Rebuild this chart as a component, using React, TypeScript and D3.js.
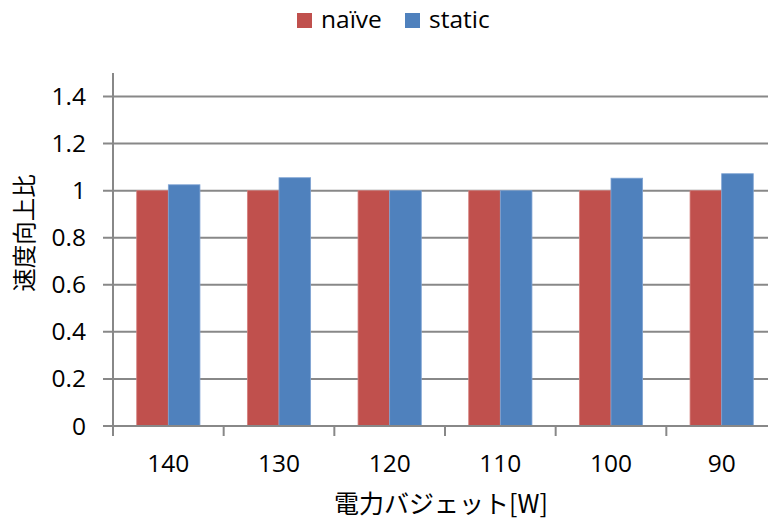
import React from "react";
import * as d3 from "d3";

const categories = ["140", "130", "120", "110", "100", "90"];
const seriesNames = ["naïve", "static"];
const naiveValues = [1, 1, 1, 1, 1, 1];
const staticValues = [1.025, 1.055, 1.0, 1.0, 1.053, 1.072];
const yTicks = [0, 0.2, 0.4, 0.6, 0.8, 1, 1.2, 1.4];
const colors = ["#C0504D", "#4F81BD"];

const W = 768;
const H = 525;
const left = 113;
const right = 777;
const top = 73;
const bottom = 426;
const font = "'Open Sans', 'Noto Sans CJK JP', sans-serif";
const jfont = "'Noto Sans CJK JP', 'Open Sans', sans-serif";

export default function App() {
  const x = d3.scaleBand<string>().domain(categories).range([left, right]).paddingInner(0).paddingOuter(0);
  const y = d3.scaleLinear().domain([0, 1.5]).range([bottom, top]);
  const bw = x.bandwidth() / 3.5;
  const series = [naiveValues, staticValues];
  const grid = "#888888";

  return (
    <svg width={W} height={H} style={{ position: "absolute", left: 0, top: 0, background: "#fff" }}>
      {yTicks.map((t) => (
        <line key={"g" + t} x1={left - 10} x2={right} y1={y(t)} y2={y(t)} stroke={grid} strokeWidth={2} />
      ))}
      {categories.map((c, i) =>
        series.map((s, k) => {
          const cx = (x(c) as number) + x.bandwidth() / 2;
          const bx = cx - bw + k * bw;
          return (
            <rect
              key={c + k}
              x={bx}
              y={y(s[i])}
              width={bw}
              height={y(0) - y(s[i])}
              fill={colors[k]}
              stroke={k === 0 ? "#D4807E" : "#7FA3D3"}
              strokeWidth={0.8}
            />
          );
        })
      )}
      <line x1={left} x2={left} y1={top} y2={bottom} stroke={grid} strokeWidth={2} />
      <line x1={left} x2={right} y1={bottom} y2={bottom} stroke={grid} strokeWidth={2} />
      {categories.map((c, i) => (
        <line key={"xt" + i} x1={x(c) as number} x2={x(c) as number} y1={bottom} y2={bottom + 10} stroke={grid} strokeWidth={2} />
      ))}
      <line x1={right} x2={right} y1={bottom} y2={bottom + 10} stroke={grid} strokeWidth={2} />
      {yTicks.map((t) => (
        <text key={"yl" + t} x={86} y={y(t) + 8.5} textAnchor="end" fontFamily={font} fontSize={24.5} fill="#000">
          {String(t)}
        </text>
      ))}
      {categories.map((c) => (
        <text key={"xl" + c} x={(x(c) as number) + x.bandwidth() / 2} y={472} textAnchor="middle" fontFamily={font} fontSize={24.5} fill="#000">
          {c}
        </text>
      ))}
      <text
        transform={`translate(33,233) rotate(-90)`}
        textAnchor="middle"
        fontFamily={jfont}
        fontSize={23.5}
        fill="#000"
      >
        速度向上比
      </text>
      <text x={441} y={513} textAnchor="middle" fontFamily={jfont} fontSize={25} fill="#000">
        電力バジェット[W]
      </text>
      <rect x={297} y={13} width={15} height={15} fill={colors[0]} />
      <text x={321} y={28} fontFamily={font} fontSize={24.5} fill="#000">{seriesNames[0]}</text>
      <rect x={405} y={13} width={15} height={15} fill={colors[1]} />
      <text x={429} y={28} fontFamily={font} fontSize={24.5} fill="#000">{seriesNames[1]}</text>
    </svg>
  );
}
